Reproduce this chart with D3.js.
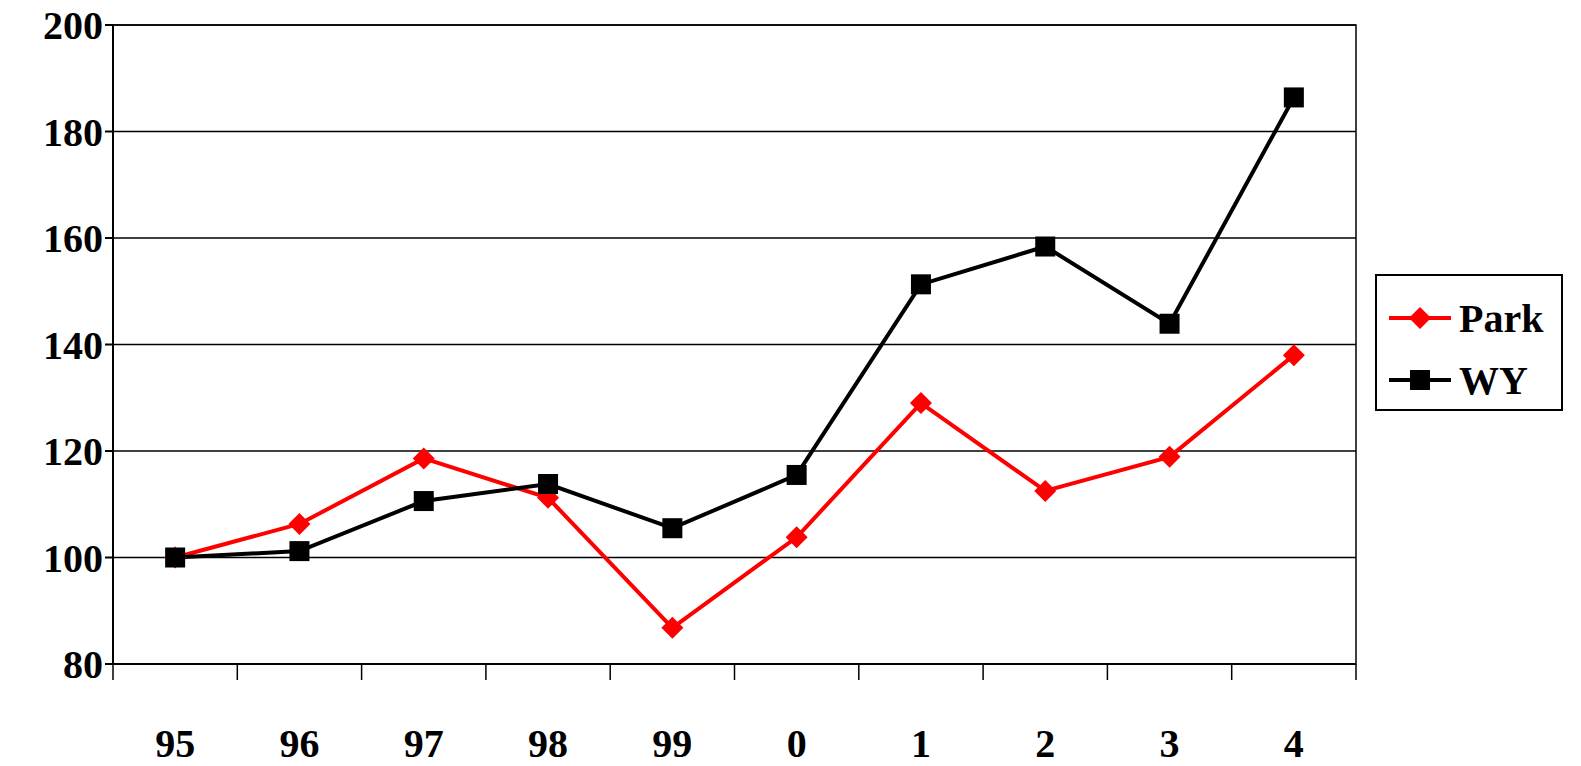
<!DOCTYPE html>
<html><head><meta charset="utf-8">
<script src="https://cdn.jsdelivr.net/npm/d3@7"></script>
<style>body{margin:0;background:#fff}</style></head>
<body><svg id="c" width="1581" height="766"></svg>
<script>
const categories=["95","96","97","98","99","0","1","2","3","4"];
const park=[100,106.3,118.6,111.2,86.8,103.8,129,112.5,118.9,138];
const wy=[100,101.2,110.6,113.8,105.5,115.5,151.3,158.4,143.9,186.4];
const yTicks=[80,100,120,140,160,180,200];
const svg=d3.select("#c");
const L=113,R=1356,T=25,B=664;
const x=d3.scaleBand().domain(categories).range([L,R]);
const y=d3.scaleLinear().domain([80,200]).range([B,T]);
const font="'Liberation Serif','Times New Roman',serif";
svg.append("g").selectAll("line").data(yTicks).join("line")
 .attr("x1",L).attr("x2",R).attr("y1",d=>y(d)).attr("y2",d=>y(d)).attr("stroke","#000").attr("stroke-width",1.5);
svg.append("rect").attr("x",L).attr("y",T).attr("width",R-L).attr("height",B-T).attr("fill","none").attr("stroke","#000").attr("stroke-width",1.5);
svg.append("line").attr("x1",L).attr("x2",L).attr("y1",T).attr("y2",B).attr("stroke","#000").attr("stroke-width",2);
svg.append("line").attr("x1",L).attr("x2",R).attr("y1",B).attr("y2",B).attr("stroke","#000").attr("stroke-width",2);
svg.append("g").selectAll("line").data(yTicks).join("line")
 .attr("x1",L-8).attr("x2",L).attr("y1",d=>y(d)).attr("y2",d=>y(d)).attr("stroke","#000").attr("stroke-width",2);
svg.append("g").selectAll("text").data(yTicks).join("text")
 .attr("x",L-10).attr("y",d=>y(d)).attr("dy","0.35em").attr("text-anchor","end")
 .attr("font-family",font).attr("font-weight","bold").attr("font-size",40).text(d=>d);
const bounds=categories.map(c=>x(c)).concat([R]);
svg.append("g").selectAll("line").data(bounds).join("line")
 .attr("x1",d=>d).attr("x2",d=>d).attr("y1",B).attr("y2",B+16).attr("stroke","#000").attr("stroke-width",1.5);
svg.append("g").selectAll("text").data(categories).join("text")
 .attr("x",d=>x(d)+x.bandwidth()/2).attr("y",757).attr("text-anchor","middle")
 .attr("font-family",font).attr("font-weight","bold").attr("font-size",40).text(d=>d);
const cx=i=>x(categories[i])+x.bandwidth()/2;
const line=d3.line().x((d,i)=>cx(i)).y(d=>y(d));
svg.append("path").attr("d",line(park)).attr("fill","none").attr("stroke","#f00").attr("stroke-width",4);
svg.append("path").attr("d",line(wy)).attr("fill","none").attr("stroke","#000").attr("stroke-width",4);
const dia=s=>`M0,${-s}L${s},0L0,${s}L${-s},0Z`;
svg.append("g").selectAll("path").data(park).join("path").attr("d",dia(11))
 .attr("transform",(d,i)=>`translate(${cx(i)},${y(d)})`).attr("fill","#f00");
svg.append("g").selectAll("rect").data(wy).join("rect")
 .attr("x",(d,i)=>cx(i)-10).attr("y",d=>y(d)-10).attr("width",20).attr("height",20).attr("fill","#000");
svg.append("rect").attr("x",1376).attr("y",275).attr("width",186).attr("height",135).attr("fill","#fff").attr("stroke","#000").attr("stroke-width",2);
const leg=[{n:"Park",c:"#f00",m:"d",yy:318},{n:"WY",c:"#000",m:"s",yy:380}];
leg.forEach(l=>{
 svg.append("line").attr("x1",1389).attr("x2",1451).attr("y1",l.yy).attr("y2",l.yy).attr("stroke",l.c).attr("stroke-width",4);
 if(l.m==="d") svg.append("path").attr("d",dia(11)).attr("transform",`translate(1420,${l.yy})`).attr("fill",l.c);
 else svg.append("rect").attr("x",1410).attr("y",l.yy-10).attr("width",20).attr("height",20).attr("fill",l.c);
 svg.append("text").attr("x",1459).attr("y",l.yy).attr("dy","0.35em").attr("font-family",font).attr("font-weight","bold").attr("font-size",40).text(l.n);
});
</script></body></html>
